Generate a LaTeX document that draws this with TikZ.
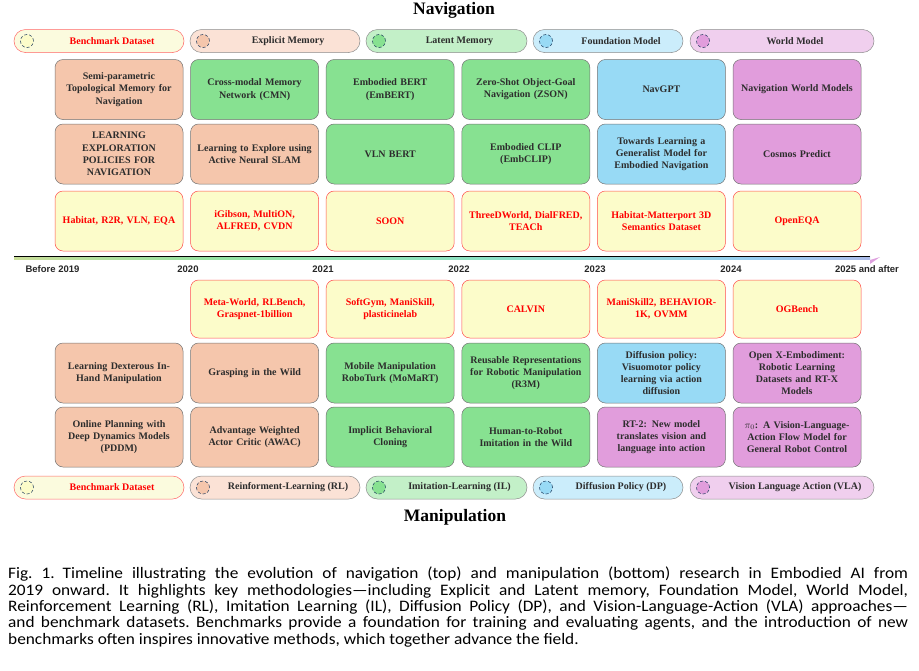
\documentclass[tikz,border=0pt]{standalone}
\usepackage{fontspec}
\setmainfont{Liberation Serif}
\newfontfamily\yearfont{Liberation Sans}
\newfontfamily\capfont[FakeStretch=1.08]{Carlito}
\usetikzlibrary{positioning,shapes.misc}

\definecolor{boxorange}{RGB}{245,198,172}
\definecolor{boxgreen}{RGB}{135,225,145}
\definecolor{boxblue}{RGB}{152,218,245}
\definecolor{boxpink}{RGB}{225,157,220}
\definecolor{boxyellow}{RGB}{252,252,202}
\definecolor{legyellow}{RGB}{251,251,222}
\definecolor{legorange}{RGB}{251,226,214}
\definecolor{leggreen}{RGB}{195,240,200}
\definecolor{legblue}{RGB}{203,237,251}
\definecolor{legpink}{RGB}{240,207,238}
\definecolor{dotblue}{RGB}{25,55,90}
\definecolor{boxtext}{RGB}{45,45,45}
\definecolor{tlorange}{RGB}{242,175,145}
\definecolor{tlyellow}{RGB}{225,220,150}
\definecolor{tlgreen}{RGB}{150,225,160}
\definecolor{tlcyan}{RGB}{140,225,195}
\definecolor{tlblue}{RGB}{150,205,240}
\definecolor{tlpurple}{RGB}{200,165,225}
\definecolor{tlpink}{RGB}{222,160,222}

\pgfdeclarehorizontalshading{timeline}{100bp}{color(0bp)=(tlorange); color(20bp)=(tlyellow);
  color(36bp)=(tlgreen); color(52bp)=(tlcyan); color(68bp)=(tlblue); color(84bp)=(tlpurple);
  color(100bp)=(tlpink)}

\begin{document}
\begin{tikzpicture}[x=1pt,y=-1pt,
                    box/.style={rectangle,rounded corners=8pt,draw=black!55,line width=0.5pt,fill=#1,
                                minimum width=128pt,minimum height=60pt,text width=126pt,align=center,inner sep=1pt,
                                text=boxtext,font=\fontsize{10}{12.2}\selectfont\bfseries},
                    bench/.style={box=boxyellow,draw=red!70,text=red},
                    pill/.style={rectangle,rounded corners=11.5pt,draw=black!45,line width=0.5pt,
                                 minimum height=23pt,inner sep=0pt},
                    dot/.style={circle,draw=dotblue,densely dashed,line width=0.5pt,minimum size=13pt,inner sep=0pt},
                    pilltext/.style={text=boxtext,font=\fontsize{10}{12}\selectfont\bfseries},
                    year/.style={text=black!85,font=\yearfont\fontsize{9.5}{11}\selectfont\bfseries},
                    title/.style={font=\fontsize{17.5}{20}\selectfont\bfseries}
                ]
    \useasboundingbox (0,0) rectangle (919,670);

    % titles
    \node[title] (navtitle) at (454,10) {Navigation};
    \node[title] (mantitle) at (455,517) {Manipulation};

    % legends
    \foreach \xl/\xr/\pc/\cc/\dc/\txt [count=\i] in {
        14/184/legyellow/boxyellow/red!60/{\textcolor{red}{Benchmark Dataset}},
        190/360/legorange/boxorange/black!45/{Explicit Memory},
        366/527/leggreen/boxgreen/black!45/{Latent Memory},
        533/683/legblue/boxblue/black!45/{Foundation Model},
        690/874/legpink/boxpink/black!45/{World Model}}
        {
        \node[pill,fill=\pc,draw=\dc,minimum width={\xr-\xl}] (navleg\i) at ({(\xl+\xr)/2},41) {};
        \node[dot,fill=\cc] (navdot\i) at ({\xl+13},41) {};
        \node[pilltext] (navlegtext\i) at ({(\xl+26+\xr)/2},41) {\txt};
    }
    \foreach \xl/\xr/\pc/\cc/\dc/\txt [count=\i] in {
        14/184/legyellow/boxyellow/red!60/{\textcolor{red}{Benchmark Dataset}},
        190/360/legorange/boxorange/black!45/{Reinforment-Learning (RL)},
        366/527/leggreen/boxgreen/black!45/{Imitation-Learning (IL)},
        533/683/legblue/boxblue/black!45/{Diffusion Policy (DP)},
        690/874/legpink/boxpink/black!45/{Vision Language Action (VLA)}}
        {
        \node[pill,fill=\pc,draw=\dc,minimum width={\xr-\xl}] (manleg\i) at ({(\xl+\xr)/2},487.5) {};
        \node[dot,fill=\cc] (mandot\i) at ({\xl+13},487.5) {};
        \node[pilltext] (manlegtext\i) at ({(\xl+26+\xr)/2},487.5) {\txt};
    }

    % navigation
    \foreach \col/\txt [count=\i] in {
        boxorange/{Semi-parametric\\Topological Memory for\\Navigation},
        boxgreen/{Cross-modal Memory\\Network (CMN)},
        boxgreen/{Embodied BERT\\(EmBERT)},
        boxgreen/{Zero-Shot Object-Goal\\Navigation (ZSON)},
        boxblue/{NavGPT},
        boxpink/{Navigation World Models}}
        \node[box=\col] (nav1\i) at ({119+135.6*(\i-1)},89.5) {\txt};
    \foreach \col/\txt [count=\i] in {
        boxorange/{LEARNING\\EXPLORATION\\POLICIES FOR\\NAVIGATION},
        boxorange/{Learning to Explore using\\Active Neural SLAM},
        boxgreen/{VLN BERT},
        boxgreen/{Embodied CLIP\\(EmbCLIP)},
        boxblue/{Towards Learning a\\Generalist Model for\\Embodied Navigation},
        boxpink/{Cosmos Predict}}
        \node[box=\col] (nav2\i) at ({119+135.6*(\i-1)},154) {\txt};
    \foreach \txt [count=\i] in {
        {Habitat, R2R, VLN, EQA},
        {iGibson, MultiON,\\ALFRED, CVDN},
        {SOON},
        {ThreeDWorld, DialFRED,\\TEACh},
        {Habitat-Matterport 3D\\Semantics Dataset},
        {OpenEQA}}
        \node[bench] (nav3\i) at ({119+135.6*(\i-1)},221) {\txt};

    % timeline
    \coordinate (tlstart) at (14,256);
    \coordinate (tlend) at (870,256);
    \shade[shading=timeline] (tlstart) rectangle ([yshift=-3.5pt]tlend);
    \draw[line width=0.8pt] (tlstart) -- (tlend);
    \fill[tlpink] ([yshift=-4pt]tlend) -- ([xshift=10pt,yshift=-1pt]tlend) -- ([yshift=-8pt]tlend) -- cycle;
    \foreach \x/\yr [count=\i] in {52.5/Before 2019,188/2020,323/2021,459/2022,595/2023,731/2024,867/2025 and after}
        \node[year] (year\i) at (\x,269) {\yr};

    % manipulation
    \foreach \txt [count=\i from 2] in {
        {Meta-World, RLBench,\\Graspnet-1billion},
        {SoftGym, ManiSkill,\\plasticinelab},
        {CALVIN},
        {ManiSkill2, BEHAVIOR-\\1K, OVMM},
        {OGBench}}
        \node[bench,minimum height=58pt] (man1\i) at ({119+135.6*(\i-1)},309) {\txt};
    \foreach \col/\txt [count=\i] in {
        boxorange/{Learning Dexterous In-\\Hand Manipulation},
        boxorange/{Grasping in the Wild},
        boxgreen/{Mobile Manipulation\\RoboTurk (MoMaRT)},
        boxgreen/{Reusable Representations\\for Robotic Manipulation\\(R3M)},
        boxblue/{Diffusion policy:\\Visuomotor policy\\learning via action\\diffusion},
        boxpink/{Open X-Embodiment:\\Robotic Learning\\Datasets and RT-X\\Models}}
        \node[box=\col] (man2\i) at ({119+135.6*(\i-1)},373) {\txt};
    \foreach \col/\txt [count=\i] in {
        boxorange/{Online Planning with\\Deep Dynamics Models\\(PDDM)},
        boxorange/{Advantage Weighted\\Actor Critic (AWAC)},
        boxgreen/{Implicit Behavioral\\Cloning},
        boxgreen/{Human-to-Robot\\Imitation in the Wild},
        boxpink/{RT-2: New model\\translates vision and\\language into action},
        boxpink/{$\pi_0$: A Vision-Language-\\Action Flow Model for\\General Robot Control}}
        \node[box=\col] (man3\i) at ({119+135.6*(\i-1)},437) {\txt};

    % caption
    \node[anchor=north west,inner sep=0pt,text width=900pt,align=justify,
          font=\capfont\fontsize{16}{16.3}\selectfont\frenchspacing] (caption) at (8,567)
        {Fig.~1.\enspace Timeline illustrating the evolution of navigation (top) and manipulation (bottom) research in Embodied AI from\linebreak
         2019 onward. It highlights key methodologies—including Explicit and Latent memory, Foundation Model, World Model,\linebreak
         Reinforcement Learning (RL), Imitation Learning (IL), Diffusion Policy (DP), and Vision-Language-Action (VLA) approaches—\linebreak
         and benchmark datasets. Benchmarks provide a foundation for training and evaluating agents, and the introduction of new\linebreak
         benchmarks often inspires innovative methods, which together advance the field.};
\end{tikzpicture}
\end{document}
